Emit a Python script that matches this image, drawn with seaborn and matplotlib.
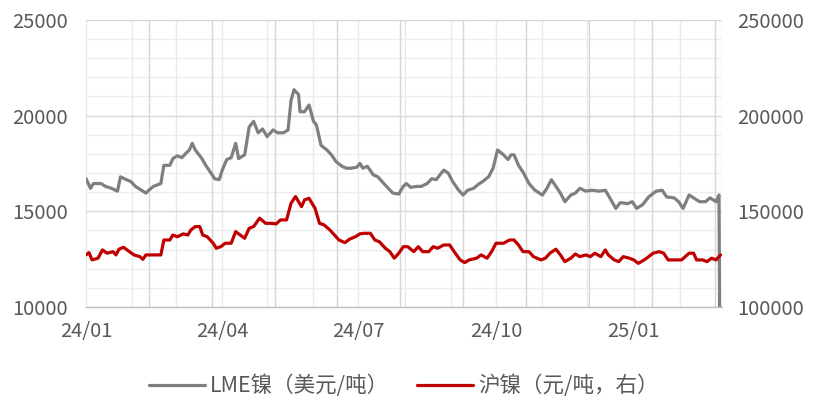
import pandas as pd
import seaborn as sns
import matplotlib.pyplot as plt
import matplotlib.dates as mdates
from matplotlib.ticker import MultipleLocator

sns.set_theme(style='white')
plt.rcParams['font.family'] = ['Noto Sans CJK SC', 'DejaVu Sans']

# days since 2024-01-01, LME nickel (USD/t)
lme_days = [0, 3, 5, 10, 13, 17, 21, 23, 27, 30, 33, 37, 40, 42, 45, 50, 52, 56, 58, 61,
            64, 67, 69, 71, 73, 77, 80, 83, 86, 89, 91, 94, 97, 100, 102, 106, 109, 112, 115, 118,
            121, 125, 128, 132, 135, 137, 139, 142, 143, 146, 149, 152, 154, 157, 161, 164, 167, 171, 174, 177,
            181, 183, 185, 188, 192, 195, 199, 202, 205, 209, 212, 214, 217, 221, 224, 228, 231, 234, 239, 242,
            245, 249, 252, 255, 259, 262, 265, 269, 272, 275, 279, 282, 284, 286, 289, 292, 296, 300, 305, 308,
            311, 314, 317, 320, 324, 327, 330, 334, 338, 343, 347, 350, 354, 357, 362, 365, 368, 372, 376, 381,
            385, 388, 393, 396, 399, 403, 406, 410, 414, 417, 421, 423, 424]
lme_price = [16700, 16200, 16450, 16450, 16300, 16200, 16050, 16800, 16650, 16550,
             16300, 16100, 15950, 16100, 16300, 16450, 17400, 17400, 17750, 17900,
             17800, 18050, 18200, 18550, 18200, 17800, 17400, 17050, 16700, 16650,
             17150, 17700, 17800, 18550, 17750, 17950, 19400, 19700, 19100, 19300,
             18900, 19250, 19100, 19100, 19250, 20800, 21350, 21100, 20200, 20200,
             20550, 19700, 19500, 18450, 18200, 17950, 17600, 17350, 17250, 17250,
             17300, 17500, 17250, 17350, 16900, 16800, 16450, 16200, 15950, 15900,
             16300, 16450, 16250, 16300, 16300, 16450, 16700, 16650, 17150, 17000,
             16550, 16100, 15850, 16100, 16200, 16400, 16550, 16800, 17250, 18200,
             17950, 17700, 17950, 17950, 17400, 17050, 16450, 16100, 15850, 16200,
             16650, 16300, 15950, 15500, 15850, 15950, 16200, 16050, 16100, 16050,
             16100, 15700, 15150, 15450, 15400, 15500, 15150, 15350, 15750, 16050,
             16100, 15750, 15700, 15500, 15150, 15850, 15700, 15500, 15500, 15700,
             15500, 15850, 0]

# SHFE nickel (CNY/t, right axis)
shfe_days = [0, 2, 4, 8, 11, 14, 18, 20, 22, 25, 29, 32, 36, 38, 40, 44, 50, 52, 56, 58,
             61, 65, 68, 70, 73, 76, 78, 81, 85, 87, 90, 93, 97, 100, 103, 106, 109, 112, 116, 120,
             124, 127, 130, 134, 137, 140, 144, 146, 149, 153, 156, 159, 163, 166, 169, 173, 176, 180, 183, 186,
             190, 193, 196, 200, 203, 206, 209, 212, 215, 219, 222, 225, 229, 232, 235, 239, 243, 246, 250, 253,
             256, 261, 264, 268, 271, 274, 279, 283, 286, 289, 292, 296, 299, 304, 307, 310, 314, 317, 320, 324,
             327, 330, 334, 337, 340, 344, 347, 349, 353, 356, 359, 363, 366, 369, 373, 376, 379, 383, 386, 389,
             394, 398, 403, 406, 408, 412, 415, 418, 421, 424]
shfe_price = [127200, 128400, 124600, 125500, 129800, 128100, 128900, 127200, 130200, 131200,
              128900, 127200, 126300, 124900, 127200, 127200, 127200, 135000, 135000, 137600,
              136700, 138200, 137600, 140200, 142000, 142000, 137600, 136700, 133300, 130700,
              131500, 133300, 133300, 139400, 137600, 135900, 141100, 142000, 146400, 143700,
              143700, 143400, 145500, 145500, 154200, 157700, 152400, 155900, 156800, 151600,
              143700, 142900, 140200, 137600, 135000, 133600, 135400, 136700, 138200, 138500,
              138500, 135000, 134100, 130700, 128900, 125500, 128100, 131500, 131500, 128900,
              131500, 128900, 128900, 131500, 130700, 132400, 132400, 128900, 124600, 123200,
              124600, 125500, 127200, 125500, 128900, 133300, 133300, 135000, 135000, 132400,
              128900, 128900, 126300, 124600, 125500, 128100, 130200, 127200, 123700, 125500,
              127700, 126300, 127200, 126300, 128100, 126300, 129800, 127200, 124600, 123700,
              126300, 125500, 124600, 122800, 124600, 126300, 128100, 128900, 128100, 124600,
              124600, 124600, 128100, 128100, 124600, 124600, 123700, 125500, 124600, 127200]

labels = ['LME镍（美元/吨）', '沪镍（元/吨，右）']

start = pd.Timestamp('2024-01-01')
end = pd.Timestamp('2025-03-01')
lme_df = pd.DataFrame({'date': start + pd.to_timedelta(lme_days, unit='D'), 'price': lme_price})
shfe_df = pd.DataFrame({'date': start + pd.to_timedelta(shfe_days, unit='D'), 'price': shfe_price})

txt = '#595959'
fs = 14.5

fig = plt.figure(figsize=(8.14, 4.05), dpi=100)
ax = fig.add_axes([0.1057, 0.242, 0.7813, 0.709])
ax2 = ax.twinx()

sns.lineplot(data=lme_df, x='date', y='price', ax=ax, color='#7F7F7F', lw=2.3, legend=False)
sns.lineplot(data=shfe_df, x='date', y='price', ax=ax2, color='#C00000', lw=2.3, legend=False)

ax.set_xlim(start, end)
ax.set_ylim(10000, 25000)
ax2.set_ylim(100000, 250000)
ax.yaxis.set_major_locator(MultipleLocator(5000))
ax.yaxis.set_minor_locator(MultipleLocator(1000))
ax2.yaxis.set_major_locator(MultipleLocator(50000))

ax.xaxis.set_major_locator(mdates.MonthLocator(bymonth=[1, 4, 7, 10]))
ax.xaxis.set_major_formatter(mdates.DateFormatter('%y/%m'))
ax.xaxis.set_minor_locator(mdates.MonthLocator())
ax.xaxis.remove_overlapping_locs = False

ax.set_axisbelow(True)
ax.grid(which='major', axis='y', color='#D9D9D9', lw=1)
ax.grid(which='minor', axis='y', color='#EEEEEE', lw=1)
ax.grid(which='minor', axis='x', color='#E9E9E9', lw=1)
ax.grid(which='major', axis='x', visible=False)
ax.vlines(pd.date_range(start, end, freq='42D')[1:], 0, 1, transform=ax.get_xaxis_transform(),
          color='#D6D6D6', lw=1, zorder=0.6)

for a in (ax, ax2):
    for s in ('top', 'left', 'right'):
        a.spines[s].set_visible(False)
    a.set_xlabel('')
    a.set_ylabel('')
ax2.spines['bottom'].set_visible(False)
ax.spines['bottom'].set_color('#BFBFBF')
ax.spines['bottom'].set_linewidth(1)

ax.tick_params(axis='y', which='both', length=0, pad=13, labelsize=fs, labelcolor=txt)
ax2.tick_params(axis='y', which='both', length=0, pad=11, labelsize=fs, labelcolor=txt)
ax.tick_params(axis='x', which='major', length=4.5, width=1, color='#BFBFBF', direction='out',
               pad=5.5, labelsize=fs, labelcolor=txt)
ax.tick_params(axis='x', which='minor', length=0)

handles = [ax.lines[0], ax2.lines[0]]
fig.legend(handles, labels, loc='center', bbox_to_anchor=(0.496, 0.047), ncol=2, frameon=False,
           fontsize=15.5, handlelength=2.6, handletextpad=0.25, columnspacing=1.3, labelcolor=txt)

fig.savefig('out.png', dpi=100)
